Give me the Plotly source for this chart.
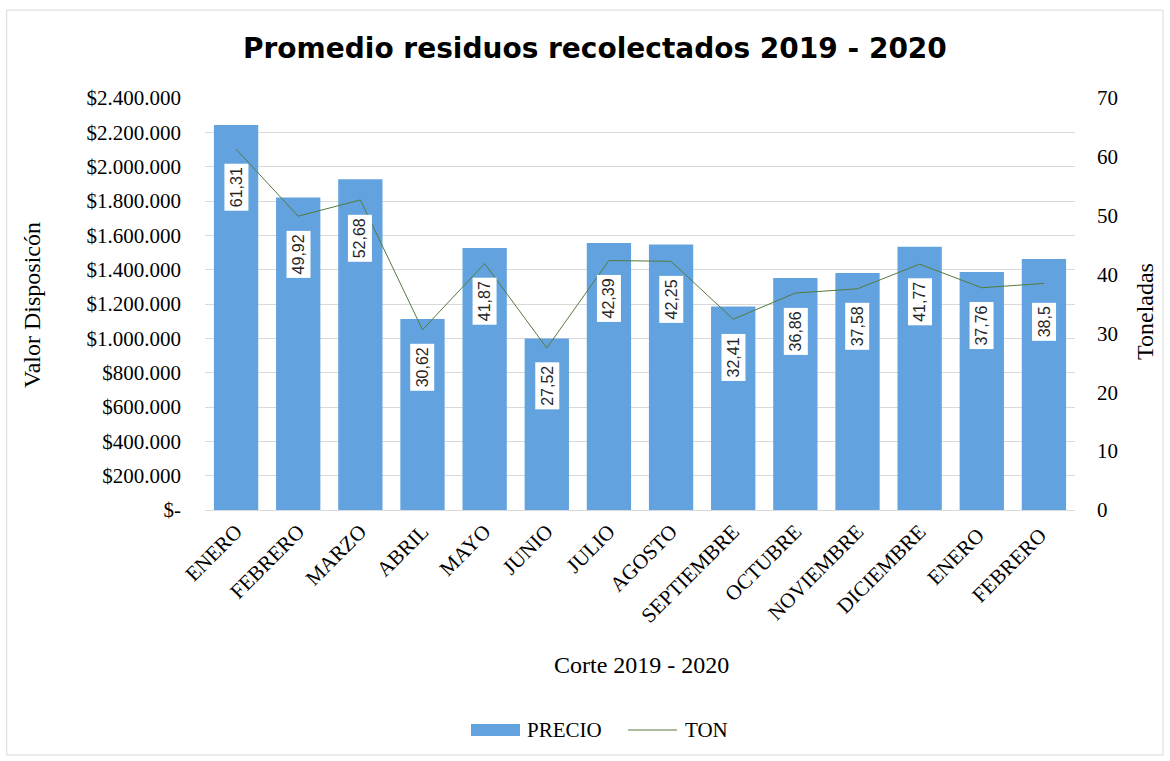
import plotly.graph_objects as go

meses = ["ENERO", "FEBRERO", "MARZO", "ABRIL", "MAYO", "JUNIO", "JULIO", "AGOSTO",
         "SEPTIEMBRE", "OCTUBRE", "NOVIEMBRE", "DICIEMBRE", "ENERO ", "FEBRERO "]
precio = [2243000, 1821000, 1926000, 1112000, 1526000, 999000, 1555000, 1547000,
          1185000, 1351000, 1380000, 1533000, 1386000, 1462000]
ton = [61.31, 49.92, 52.68, 30.62, 41.87, 27.52, 42.39, 42.25, 32.41, 36.86, 37.58, 41.77, 37.76, 38.5]

y1_ticks = [0, 200000, 400000, 600000, 800000, 1000000, 1200000, 1400000, 1600000,
            1800000, 2000000, 2200000, 2400000]
y1_text = ["$-", "$200.000", "$400.000", "$600.000", "$800.000", "$1.000.000", "$1.200.000",
           "$1.400.000", "$1.600.000", "$1.800.000", "$2.000.000", "$2.200.000", "$2.400.000"]
y2_ticks = [0, 10, 20, 30, 40, 50, 60, 70]

serif = "Liberation Serif, Times New Roman, serif"
bar_color = "#62a3df"
line_color = "#557a3d"
tick_size = 21

fig = go.Figure()
fig.add_trace(go.Bar(x=meses, y=precio, name="PRECIO", marker=dict(color=bar_color, line=dict(width=0)),
                     yaxis="y", showlegend=False))
fig.add_trace(go.Scatter(x=meses, y=ton, name="TON", mode="lines", yaxis="y2", showlegend=False,
                         line=dict(color=line_color, width=1)))

annotations = []
for m, v in zip(meses, ton):
    annotations.append(dict(x=m, y=v, xref="x", yref="y2", text=str(v).replace(".", ","),
                            textangle=-90, showarrow=False, yshift=-38,
                            font=dict(family="Liberation Sans, Arial, sans-serif", size=16, color="#262626"),
                            bgcolor="white", borderpad=3))

def px_x(px):
    return (px - 205) / 870.0

def px_y(py):
    return (510 - py) / 412.0

annotations.append(dict(x=px_x(641.5), y=px_y(665), xref="paper", yref="paper", text="Corte 2019 - 2020",
                        showarrow=False, font=dict(family=serif, size=24, color="#000000"),
                        xanchor="center", yanchor="middle"))
annotations.append(dict(x=px_x(32), y=px_y(305), xref="paper", yref="paper", text="Valor Disposicón",
                        textangle=-90, showarrow=False, font=dict(family=serif, size=24, color="#000000"),
                        xanchor="center", yanchor="middle"))
annotations.append(dict(x=px_x(1145), y=px_y(312), xref="paper", yref="paper", text="Toneladas",
                        textangle=-90, showarrow=False, font=dict(family=serif, size=24, color="#000000"),
                        xanchor="center", yanchor="middle"))
# legend texts
annotations.append(dict(x=px_x(525), y=px_y(730), xref="paper", yref="paper", text="PRECIO",
                        showarrow=False, font=dict(family=serif, size=tick_size, color="#000000"),
                        xanchor="left", yanchor="middle"))
annotations.append(dict(x=px_x(683), y=px_y(730), xref="paper", yref="paper", text="TON",
                        showarrow=False, font=dict(family=serif, size=tick_size, color="#000000"),
                        xanchor="left", yanchor="middle"))

shapes = [
    dict(type="rect", xref="paper", yref="paper", x0=px_x(6.7), x1=px_x(1163), y0=px_y(755), y1=px_y(10),
         line=dict(color="#d9d9d9", width=1), fillcolor="rgba(0,0,0,0)", layer="below"),
    dict(type="rect", xref="paper", yref="paper", x0=px_x(471), x1=px_x(520), y0=px_y(736), y1=px_y(724),
         line=dict(width=0), fillcolor=bar_color),
    dict(type="line", xref="paper", yref="paper", x0=px_x(628), x1=px_x(677), y0=px_y(730), y1=px_y(730),
         line=dict(color=line_color, width=1)),
]

fig.update_layout(
    width=1170, height=761,
    margin=dict(l=205, r=95, t=98, b=251, autoexpand=False),
    paper_bgcolor="white", plot_bgcolor="white",
    bargap=0.287,
    showlegend=False,
    title=dict(text="<b>Promedio residuos recolectados 2019 - 2020</b>", x=0.5085, y=0.937,
               xanchor="center", yanchor="middle",
               font=dict(family="DejaVu Sans, sans-serif", size=28, color="#000000")),
    xaxis=dict(type="category", tickangle=-45, tickfont=dict(family=serif, size=tick_size, color="#000000"),
               showgrid=False, showline=True, linecolor="#d9d9d9", linewidth=1, ticks=""),
    yaxis=dict(range=[0, 2400000], tickvals=y1_ticks, ticktext=y1_text,
               tickfont=dict(family=serif, size=tick_size, color="#000000"),
               showgrid=True, gridcolor="#d9d9d9", gridwidth=1, zeroline=False, ticks="",
               ticklabelstandoff=23),
    yaxis2=dict(range=[0, 70], tickvals=y2_ticks, overlaying="y", side="right",
                tickfont=dict(family=serif, size=tick_size, color="#000000"),
                showgrid=False, zeroline=False, ticks="", ticklabelstandoff=21),
    annotations=annotations,
    shapes=shapes,
)

fig.write_html("out.html", config={"displayModeBar": False},
               post_script="document.body.style.margin='0px';document.body.style.overflow='hidden';")
